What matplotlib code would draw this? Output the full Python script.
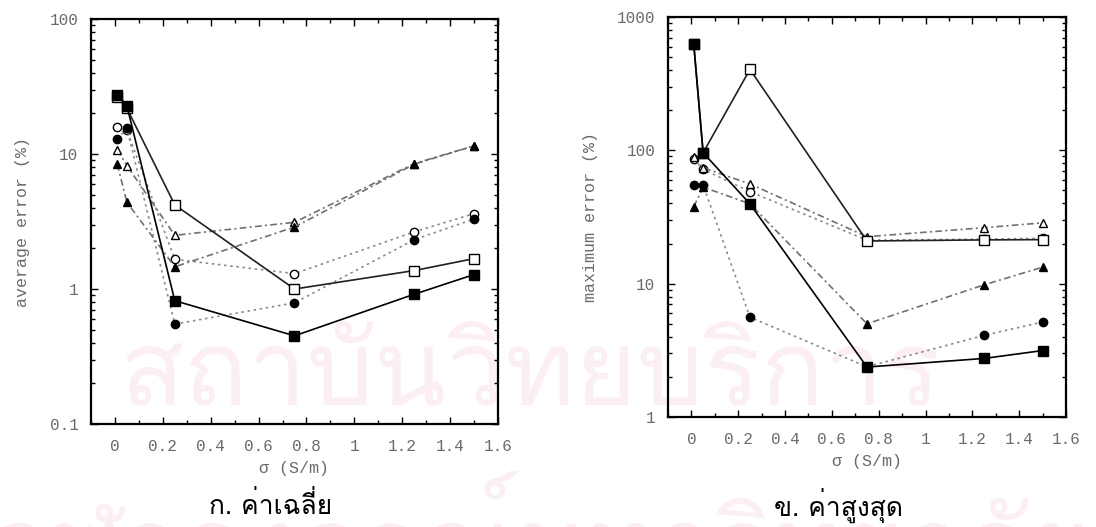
import numpy as np
import matplotlib
matplotlib.use("Agg")
import matplotlib.pyplot as plt
from matplotlib import font_manager
from matplotlib.ft2font import FT2Font
from matplotlib.ticker import FixedLocator, LogLocator, NullFormatter

# conductivity values (S/m)
sigma = [0.01, 0.05, 0.25, 0.75, 1.25, 1.5]

# average error (%)
avg_sq_filled = [27.5, 22.8, 0.82, 0.45, 0.915, 1.28]
avg_sq_open = [26.5, 21.8, 4.2, 1.0, 1.37, 1.68]
avg_circ_open = [15.8, 15.0, 1.66, 1.3, 2.65, 3.62]
avg_circ_filled = [12.9, 15.5, 0.55, 0.79, 2.32, 3.3]
avg_tri_open = [10.8, 8.2, 2.5, 3.12, 8.5, 11.5]
avg_tri_filled = [8.4, 4.4, 1.46, 2.88, 8.4, 11.5]

# maximum error (%)
max_sq_filled = [625, 96, 39.7, 2.37, 2.75, 3.15]
max_sq_open = [625, 96, 405, 20.9, 21.3, 21.4]
max_circ_open = [86, 72, 49, 21.2, 21.6, 21.9]
max_circ_filled = [54.5, 55, 5.6, 2.38, 4.1, 5.15]
max_tri_open = [89, 74, 56, 22.5, 26.3, 28.6]
max_tri_filled = [37.8, 53, 39.7, 5.0, 9.8, 13.3]

xtick_vals = [0, 0.2, 0.4, 0.6, 0.8, 1.0, 1.2, 1.4, 1.6]
xtick_labels = ["0", "0.2", "0.4", "0.6", "0.8", "1", "1.2", "1.4", "1.6"]
avg_yticks = [0.1, 1, 10, 100]
avg_ylabels = ["0.1", "1", "10", "100"]
max_yticks = [1, 10, 100, 1000]
max_ylabels = ["1", "10", "100", "1000"]


def thai_font():
    for f in font_manager.fontManager.ttflist:
        try:
            if 0x0E01 in FT2Font(f.fname).get_charmap():
                return f.name
        except Exception:
            pass
    return "DejaVu Sans"


THAI = thai_font()
MONO = "Liberation Mono"
GREY = "#6a6a6a"
WM = "#fbeff5"

# series styles: (marker, filled, line colour, dashes, zorder)
styles = [
    ("s", True, "black", None, 3.6),
    ("s", False, "#202020", None, 3.5),
    ("o", False, "#8a8a8a", (1.5, 2.2), 3.0),
    ("o", True, "#8a8a8a", (1.5, 2.2), 3.1),
    ("^", False, "#707070", (4, 2, 1.2, 2), 3.2),
    ("^", True, "#707070", (4, 2, 1.2, 2), 3.3),
]


def draw_panel(ax, series, yticks, ylabels, ylim, ylabel):
    for ys, (mk, filled, col, dashes, z) in zip(series, styles):
        size = 7 if mk == "s" else 6
        line, = ax.plot(sigma, ys, color=col, lw=1.2,
                        marker=mk, ms=size, mec="black", mew=1.0,
                        mfc="black" if filled else "white", zorder=z)
        if dashes is not None:
            line.set_dashes(dashes)
    ax.set_yscale("log")
    ax.set_xlim(-0.1, 1.6)
    ax.set_ylim(*ylim)
    ax.set_facecolor("none")

    ax.xaxis.set_major_locator(FixedLocator(xtick_vals))
    ax.set_xticklabels(xtick_labels)
    ax.xaxis.set_minor_locator(FixedLocator(np.arange(-0.1, 1.65, 0.1)))
    ax.yaxis.set_major_locator(FixedLocator(yticks))
    ax.set_yticklabels(ylabels)
    ax.yaxis.set_minor_locator(LogLocator(base=10, subs=np.arange(2, 10)))
    ax.yaxis.set_minor_formatter(NullFormatter())

    ax.tick_params(which="both", direction="in", top=True, right=True,
                   width=1.0, colors="black", labelcolor=GREY,
                   labelsize=11.5)
    ax.tick_params(which="major", length=5)
    ax.tick_params(which="minor", length=3)
    ax.tick_params(axis="x", pad=11)
    ax.tick_params(axis="y", pad=9)
    for lab in ax.get_xticklabels() + ax.get_yticklabels():
        lab.set_fontfamily(MONO)
    for sp in ax.spines.values():
        sp.set_linewidth(1.6)
    ax.set_xlabel("\u03c3 (S/m)", fontfamily=MONO, fontsize=12,
                  color=GREY, labelpad=5)
    ax.set_ylabel(ylabel, fontfamily=MONO, fontsize=12, color=GREY,
                  labelpad=14)


fig = plt.figure(figsize=(10.96, 5.27), dpi=100)

# faint watermark behind the plots
fig.text(530 / 1096, 1 - 378 / 527, "สถาบันวิทยบริการ", fontfamily=THAI,
         fontsize=76, color=WM, ha="center", va="center", zorder=-5)
fig.text(540 / 1096, 1 - 540 / 527, "จุฬาลงกรณ์มหาวิทยาลัย",
         fontfamily=THAI, fontsize=76, color=WM, ha="center", va="center",
         zorder=-5)

ax1 = fig.add_axes([0.0830, 0.1954, 0.3714, 0.7685])
ax2 = fig.add_axes([0.6095, 0.2087, 0.3631, 0.7590])

draw_panel(ax1, [avg_sq_filled, avg_sq_open, avg_circ_open, avg_circ_filled,
                 avg_tri_open, avg_tri_filled],
           avg_yticks, avg_ylabels, (0.1, 100), "average error (%)")
draw_panel(ax2, [max_sq_filled, max_sq_open, max_circ_open, max_circ_filled,
                 max_tri_open, max_tri_filled],
           max_yticks, max_ylabels, (1, 1000), "maximum error (%)")

fig.text(271 / 1096, 1 - 505 / 527, "ก. ค่าเฉลี่ย", fontfamily=THAI,
         fontsize=19, ha="center", va="center")
fig.text(838 / 1096, 1 - 505 / 527, "ข. ค่าสูงสุด", fontfamily=THAI,
         fontsize=19, ha="center", va="center")

fig.savefig("out.png", dpi=100, facecolor="white")
